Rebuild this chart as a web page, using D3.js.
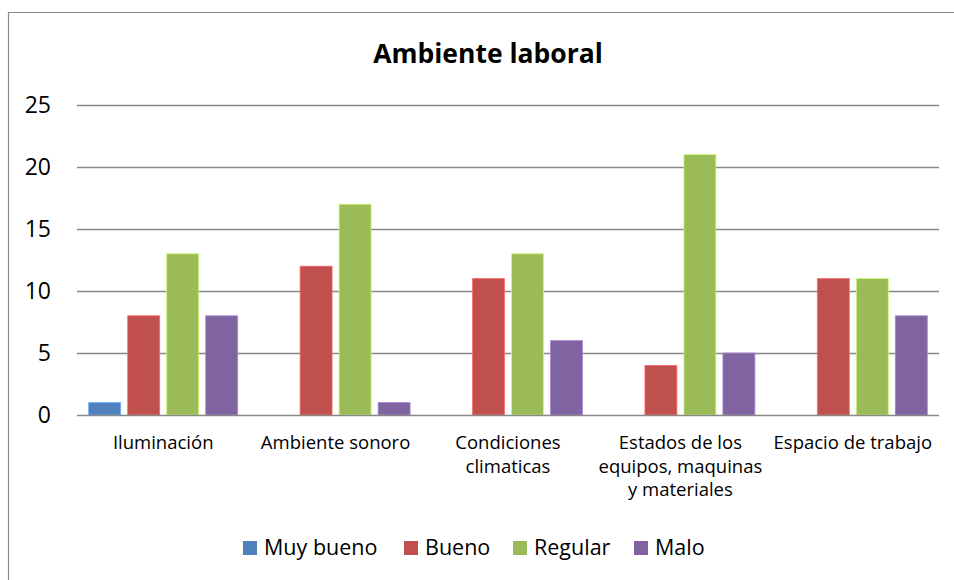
<!DOCTYPE html>
<html>
<head>
<meta charset="utf-8">
<script src="https://cdn.jsdelivr.net/npm/d3@7"></script>
<style>
  body { margin: 0; background: #fff; }
  svg { display: block; font-family: "Open Sans", sans-serif; }
</style>
</head>
<body>
<svg id="chart" width="954" height="580"></svg>
<script>
// chart data
var title = "Ambiente laboral";
var categories = [
  ["Iluminación"],
  ["Ambiente sonoro"],
  ["Condiciones", "climaticas"],
  ["Estados de los", "equipos, maquinas", "y materiales"],
  ["Espacio de trabajo"]
];
var seriesNames = ["Muy bueno", "Bueno", "Regular", "Malo"];
var muyBueno = [1, 0, 0, 0, 0];
var bueno = [8, 12, 11, 4, 11];
var regular = [13, 17, 13, 21, 11];
var malo = [8, 1, 6, 5, 8];
var yTicks = [0, 5, 10, 15, 20, 25];
var colors = ["#4f81bd", "#c0504d", "#9bbb59", "#8064a2"];

var series = [muyBueno, bueno, regular, malo];

var svg = d3.select("#chart");
var plot = {left: 77, right: 939, top: 105, bottom: 415};

// frame (only top and left edges are visible in the picture)
svg.append("path")
  .attr("d", "M8.5,580V12.5H954")
  .attr("fill", "none")
  .attr("stroke", "#898989")
  .attr("stroke-width", 1.2);

svg.append("text")
  .attr("x", 488)
  .attr("y", 63)
  .attr("text-anchor", "middle")
  .style("font-size", "26.5px")
  .style("font-weight", "bold")
  .text(title);

var x0 = d3.scaleBand()
  .domain(d3.range(categories.length))
  .range([plot.left, plot.right]);

var x1 = d3.scaleBand()
  .domain(d3.range(seriesNames.length))
  .range([0, 156])
  .paddingInner(0.18)
  .paddingOuter(0.09);

var y = d3.scaleLinear()
  .domain([0, 25])
  .range([plot.bottom, plot.top]);

// gridlines
svg.append("g")
  .selectAll("line")
  .data(yTicks.filter(function(d) { return d > 0; }))
  .enter().append("line")
    .attr("x1", plot.left)
    .attr("x2", plot.right)
    .attr("y1", function(d) { return y(d) + 0.5; })
    .attr("y2", function(d) { return y(d) + 0.5; })
    .attr("stroke", "#878787")
    .attr("stroke-width", 1.3);

// y labels
svg.append("g")
  .selectAll("text")
  .data(yTicks)
  .enter().append("text")
    .attr("x", 51)
    .attr("y", function(d) { return y(d); })
    .attr("dy", "0.36em")
    .attr("text-anchor", "end")
    .style("font-size", "23px")
    .text(function(d) { return d; });

// bars
var groups = svg.append("g")
  .selectAll("g")
  .data(categories)
  .enter().append("g")
    .attr("transform", function(d, i) {
      return "translate(" + (x0(i) + x0.bandwidth() / 2 - 78) + ",0)";
    });

groups.selectAll("rect")
  .data(function(d, i) {
    return series.map(function(s, j) { return {s: j, v: s[i]}; });
  })
  .enter().append("rect")
    .filter(function(d) { return d.v > 0; })
    .attr("x", function(d) { return x1(d.s); })
    .attr("width", x1.bandwidth())
    .attr("y", function(d) { return y(d.v); })
    .attr("height", function(d) { return y(0) - y(d.v); })
    .attr("fill", function(d) { return colors[d.s]; })
    .attr("stroke", function(d) { return d3.color(colors[d.s]).brighter(0.8); })
    .attr("stroke-width", 0.8);

// baseline axis
svg.append("line")
  .attr("x1", plot.left)
  .attr("x2", plot.right)
  .attr("y1", y(0) + 0.5)
  .attr("y2", y(0) + 0.5)
  .attr("stroke", "#878787")
  .attr("stroke-width", 1.6);

// category labels
var catLabels = svg.append("g")
  .selectAll("text")
  .data(categories)
  .enter().append("text")
    .attr("x", function(d, i) { return x0(i) + x0.bandwidth() / 2; })
    .attr("y", 449)
    .attr("text-anchor", "middle")
    .style("font-size", "18.5px");

catLabels.selectAll("tspan")
  .data(function(d) { return d; })
  .enter().append("tspan")
    .attr("x", function() { return d3.select(this.parentNode).attr("x"); })
    .attr("dy", function(d, i) { return i === 0 ? 0 : 23.5; })
    .text(function(d) { return d; });

// legend
var legendX = [243, 404, 513, 634];
var legend = svg.append("g")
  .selectAll("g")
  .data(seriesNames)
  .enter().append("g")
    .attr("transform", function(d, i) { return "translate(" + legendX[i] + ",541)"; });

legend.append("rect")
  .attr("width", 14)
  .attr("height", 14)
  .attr("fill", function(d, i) { return colors[i]; });

legend.append("text")
  .attr("x", 21)
  .attr("y", 14)
  .style("font-size", "21.5px")
  .text(function(d) { return d; });
</script>
</body>
</html>
